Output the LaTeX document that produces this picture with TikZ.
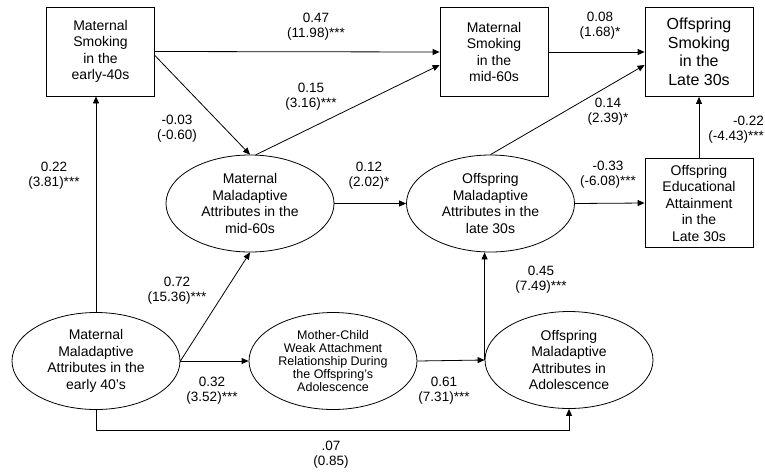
\documentclass[tikz,border=0pt]{standalone}
\usepackage{fontspec}
\setmainfont{Liberation Sans}
\usepackage{tikz}
\usetikzlibrary{arrows.meta, shapes.geometric}

\begin{document}
\begin{tikzpicture}[
  x=1pt, y=-1pt,
  font=\fontsize{14}{16.5}\selectfont,
  box/.style={draw, line width=0.8pt, minimum width=108pt, minimum height=89pt,
    align=center, inner sep=2pt},
  latent/.style={draw, ellipse, line width=0.8pt, minimum width=168pt,
    minimum height=97pt, align=center, inner sep=0pt},
  coef/.style={align=center, inner sep=0pt, font=\fontsize{13.5}{15}\selectfont},
  arrow/.style={-{Triangle[length=7pt, width=6pt]}, line width=0.8pt},
]
  \useasboundingbox (0,0) rectangle (765,475);

  \node[box] (smk40) at (100.5,51.5) {Maternal\\Smoking\\in the\\early-40s};
  \node[box] (smk60) at (494,52) {Maternal\\Smoking\\in the\\mid-60s};
  \node[box, font=\fontsize{16}{18.5}\selectfont] (osmk) at (699,52)
    {Offspring\\Smoking\\in the\\Late 30s};
  \node[box] (edu) at (699,203) {Offspring\\Educational\\Attainment\\in the\\Late 30s};

  \node[latent] (mal60) at (250,203.5) {Maternal\\Maladaptive\\Attributes in the\\mid-60s};
  \node[latent] (omal30) at (490.5,203.5) {Offspring\\Maladaptive\\Attributes in the\\late 30s};
  \node[latent] (mal40) at (96,361) {Maternal\\Maladaptive\\Attributes in the\\early 40's};
  \node[latent, font=\fontsize{12.5}{13}\selectfont] (attach) at (333,361)
    {Mother-Child\\Weak Attachment\\Relationship During\\the Offspring's\\Adolescence};
  \node[latent] (oadol) at (569,360) {Offspring\\Maladaptive\\Attributes in\\Adolescence};

  \draw[arrow] (smk40.east) -- (smk60.west);
  \draw[arrow] ([yshift=-4pt]smk40.east) -- (mal60.north);
  \draw[arrow] (mal60.83) -- ([yshift=-13pt]smk60.west);
  \draw[arrow] (smk60.east) -- (osmk.west);
  \draw[arrow] (omal30.north) -- ([yshift=-13pt]osmk.west);
  \draw[arrow] (edu.north) -- (osmk.south);
  \draw[arrow] (omal30.east) -- (edu.west);
  \draw[arrow] (mal60.east) -- (omal30.west);
  \draw[arrow] (mal40.north) -- (mal40.north |- smk40.south);
  \draw[arrow] (mal40.east) -- (mal60.south);
  \draw[arrow] (mal40.east) -- (attach.west);
  \draw[arrow] (attach.east) -- (oadol.west);
  \draw[arrow] (oadol.west) -- (oadol.west |- omal30.south);
  \draw[arrow] (mal40.south) -- ++(0,20) -| (oadol.south);

  \node[coef] (c47) at (316,27) {0.47\\(11.98)***};
  \node[coef] (c03) at (177,129) {-0.03\\(-0.60)};
  \node[coef] (c15) at (311,97) {0.15\\(3.16)***};
  \node[coef] (c22) at (54,176) {0.22\\(3.81)***};
  \node[coef] (c12) at (369,176) {0.12\\(2.02)*};
  \node[coef] (c08) at (600,26) {0.08\\(1.68)*};
  \node[coef] (c14) at (608,112) {0.14\\(2.39)*};
  \node[coef, anchor=east, align=right] (cn22) at (764,130) {-0.22\\(-4.43)***};
  \node[coef] (cn33) at (608,175) {-0.33\\(-6.08)***};
  \node[coef] (c72) at (177,291) {0.72\\(15.36)***};
  \node[coef] (c32) at (212,391) {0.32\\(3.52)***};
  \node[coef] (c61) at (444,391) {0.61\\(7.31)***};
  \node[coef] (c45) at (541,280) {0.45\\(7.49)***};
  \node[coef] (c07) at (331,455) {.07\\(0.85)};
\end{tikzpicture}
\end{document}
